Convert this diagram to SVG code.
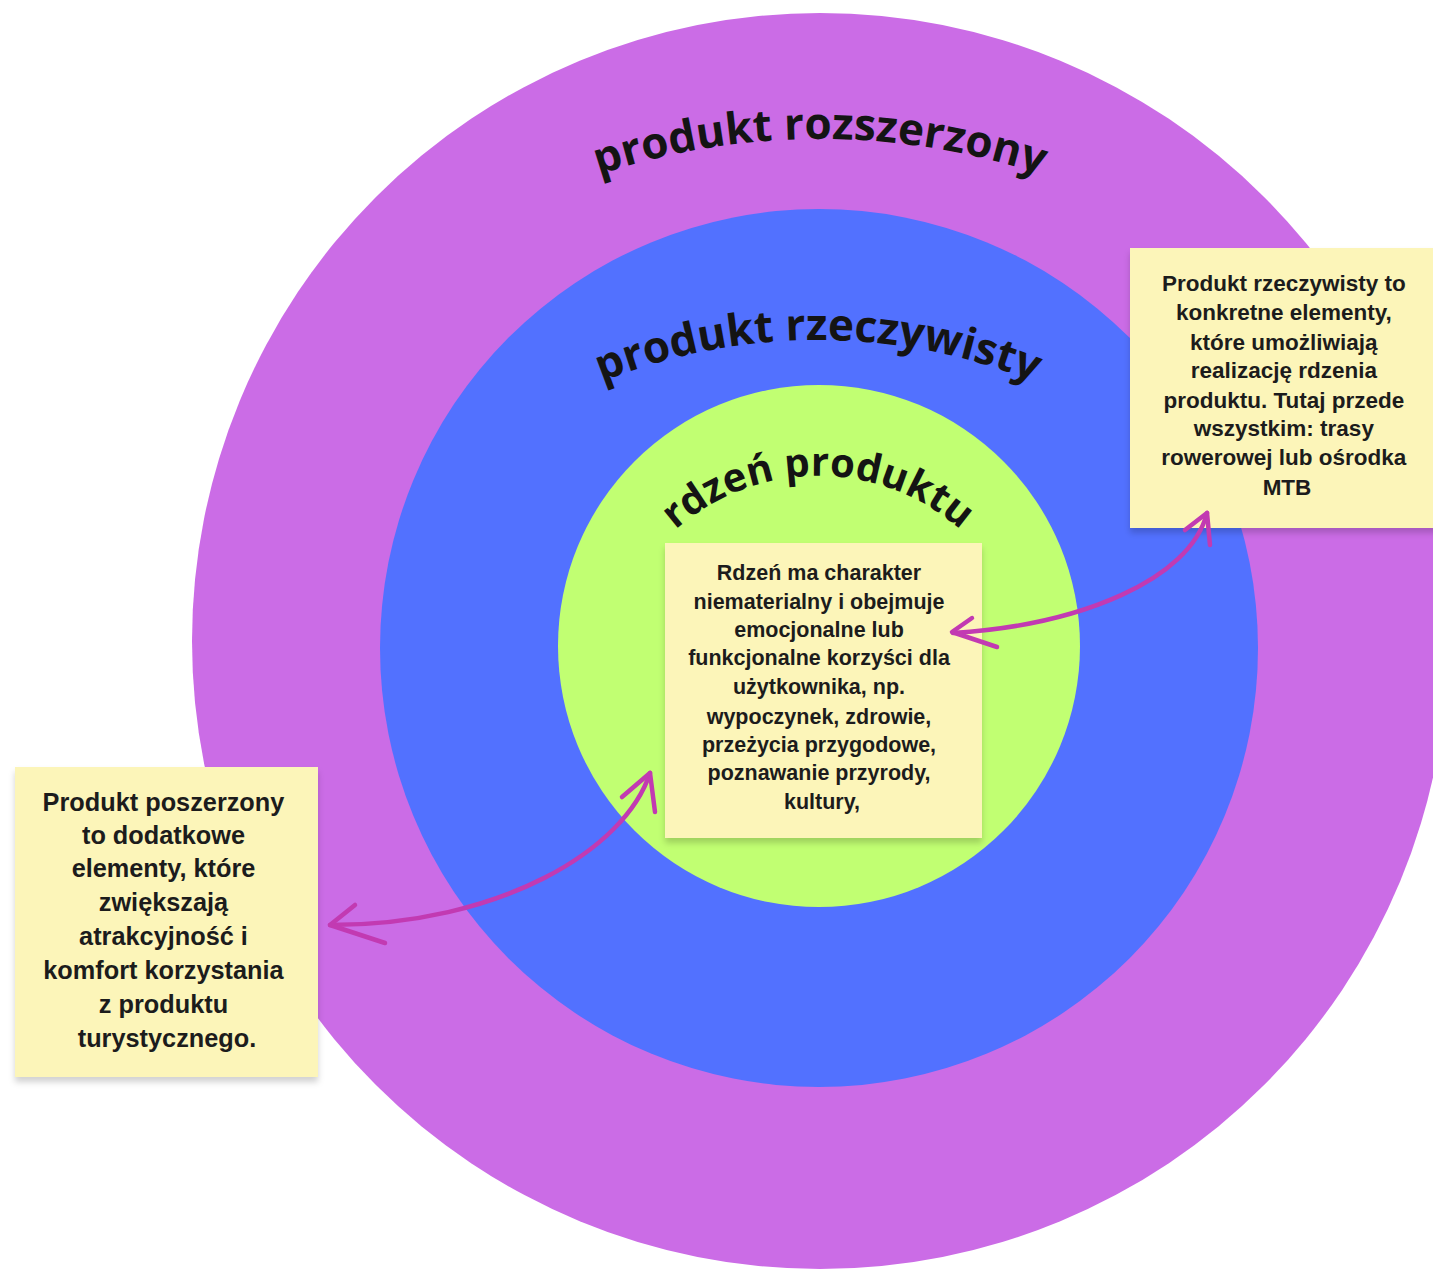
<svg xmlns="http://www.w3.org/2000/svg" width="1433" height="1275" viewBox="0 0 1433 1275">
  <style>
    .title { font-family: "Open Sans", "Liberation Sans", sans-serif; font-weight: 700; fill: #141414; }
    .note { fill: #FCF5B9; }
    .ntext { font-family: "Liberation Sans", Arial, sans-serif; font-weight: 700; fill: #1c1c1c; text-anchor: middle; }
    .arrow { fill: none; stroke: #C23AB2; stroke-width: 4.5; stroke-linecap: round; stroke-linejoin: round; }
  </style>
  <defs>
    <filter id="shadow" x="-10%" y="-10%" width="120%" height="130%">
      <feDropShadow dx="0" dy="5" stdDeviation="3" flood-color="#000" flood-opacity="0.18"/>
    </filter>
    <path id="arc1" d="M 320 349 A 700 700 0 0 1 1320 349"/>
    <path id="arc2" d="M 418 500 A 580 580 0 0 1 1218 500"/>
    <path id="arc3" d="M 618 612 A 215 215 0 0 1 1018 612"/>
  </defs>
  <rect width="1433" height="1275" fill="#FFFFFF"/>

  <g id="ring-outer">
    <circle cx="820" cy="641" r="628" fill="#CB6CE6"/>
    <text class="title" font-size="44"><textPath href="#arc1" startOffset="50%" text-anchor="middle">produkt rozszerzony</textPath></text>
  </g>
  <g id="ring-middle">
    <circle cx="819" cy="648" r="439" fill="#5271FF"/>
    <text class="title" font-size="44"><textPath href="#arc2" startOffset="50%" text-anchor="middle">produkt rzeczywisty</textPath></text>
  </g>
  <g id="ring-inner">
    <circle cx="819" cy="646" r="261" fill="#C1FF72"/>
    <text class="title" font-size="40"><textPath href="#arc3" startOffset="50%" text-anchor="middle">rdzeń produktu</textPath></text>
  </g>

  <g id="note-core">
    <rect class="note" x="665" y="543" width="317" height="295" filter="url(#shadow)"/>
    <text class="ntext" font-size="21.5">
      <tspan x="822" y="580">Rdzeń ma charakter</tspan>
      <tspan x="822" y="609">niematerialny i obejmuje</tspan>
      <tspan x="822" y="637">emocjonalne lub</tspan>
      <tspan x="822" y="665">funkcjonalne korzyści dla</tspan>
      <tspan x="822" y="694">użytkownika, np.</tspan>
      <tspan x="822" y="724">wypoczynek, zdrowie,</tspan>
      <tspan x="822" y="752">przeżycia przygodowe,</tspan>
      <tspan x="822" y="780">poznawanie przyrody,</tspan>
      <tspan x="822" y="809">kultury,</tspan>
    </text>
  </g>

  <g id="note-actual">
    <rect class="note" x="1130" y="248" width="315" height="280" filter="url(#shadow)"/>
    <text class="ntext" font-size="22.5">
      <tspan x="1287" y="291">Produkt rzeczywisty to</tspan>
      <tspan x="1287" y="320">konkretne elementy,</tspan>
      <tspan x="1287" y="350">które umożliwiają</tspan>
      <tspan x="1287" y="378">realizację rdzenia</tspan>
      <tspan x="1287" y="408">produktu. Tutaj przede</tspan>
      <tspan x="1287" y="436">wszystkim: trasy</tspan>
      <tspan x="1287" y="465">rowerowej lub ośrodka</tspan>
      <tspan x="1287" y="495">MTB</tspan>
    </text>
  </g>

  <g id="note-augmented">
    <rect class="note" x="15" y="767" width="303" height="310" filter="url(#shadow)"/>
    <text class="ntext" font-size="25.3">
      <tspan x="167" y="811">Produkt poszerzony</tspan>
      <tspan x="167" y="844">to dodatkowe</tspan>
      <tspan x="167" y="877">elementy, które</tspan>
      <tspan x="167" y="911">zwiększają</tspan>
      <tspan x="167" y="945">atrakcyjność i</tspan>
      <tspan x="167" y="979">komfort korzystania</tspan>
      <tspan x="167" y="1013">z produktu</tspan>
      <tspan x="167" y="1047">turystycznego.</tspan>
    </text>
  </g>

  <g id="connectors">
    <path class="arrow" d="M 1207 513 C 1190 580 1080 625 953 633"/>
    <polyline class="arrow" points="1185,530 1207,513 1210,545"/>
    <polyline class="arrow" points="972,618 952,632 997,647"/>
    <path class="arrow" d="M 650 773 C 625 850 500 925 330 925"/>
    <polyline class="arrow" points="622,797 650,773 655,812"/>
    <polyline class="arrow" points="355,905 330,925 385,943"/>
  </g>
</svg>
